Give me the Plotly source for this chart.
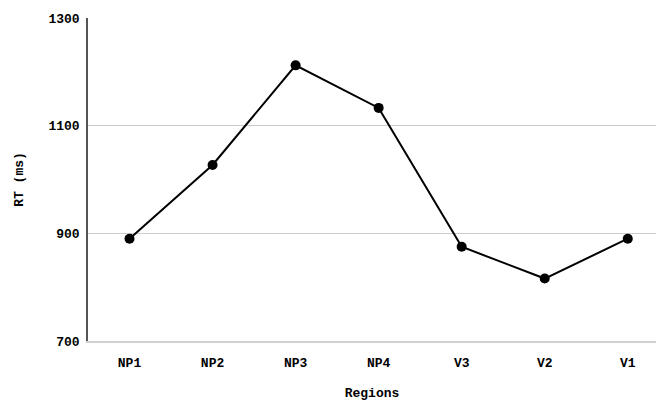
import plotly.graph_objects as go

regions = ["NP1", "NP2", "NP3", "NP4", "V3", "V2", "V1"]
rt_ms = [890, 1027, 1212, 1133, 875, 816, 890]
y_ticks = [700, 900, 1100, 1300]

font_fam = "Liberation Mono, Courier New, monospace"

fig = go.Figure(go.Scatter(
    x=regions, y=rt_ms, mode="lines+markers",
    line=dict(color="black", width=2),
    marker=dict(color="black", size=10),
))

fig.update_layout(
    width=656, height=402,
    margin=dict(l=88, r=0, t=18, b=61),
    paper_bgcolor="white", plot_bgcolor="white",
    showlegend=False,
    font=dict(family=font_fam, color="black", size=13),
    xaxis=dict(
        range=[-0.5, 6.34], showgrid=False, showline=True,
        linecolor="#d0d0d0", linewidth=2, ticks="outside", ticklen=8,
        tickcolor="rgba(0,0,0,0)",
        tickfont=dict(family=font_fam, size=13, weight="bold"),
        title=dict(text="<b>Regions</b>", standoff=18,
                   font=dict(family=font_fam, size=13)),
    ),
    yaxis=dict(
        range=[700, 1300], tickvals=y_ticks, showgrid=True,
        gridcolor="#cccccc", gridwidth=1, showline=True,
        linecolor="#555555", linewidth=1.5, ticks="outside", ticklen=4,
        tickcolor="rgba(0,0,0,0)", zeroline=False,
        tickfont=dict(family=font_fam, size=13, weight="bold"),
        title=dict(text="<b>RT (ms)</b>", standoff=22,
                   font=dict(family=font_fam, size=13)),
    ),
)

fig.write_html("out.html", config={"displayModeBar": False},
               post_script="document.body.style.margin='0';document.body.style.padding='0';")
